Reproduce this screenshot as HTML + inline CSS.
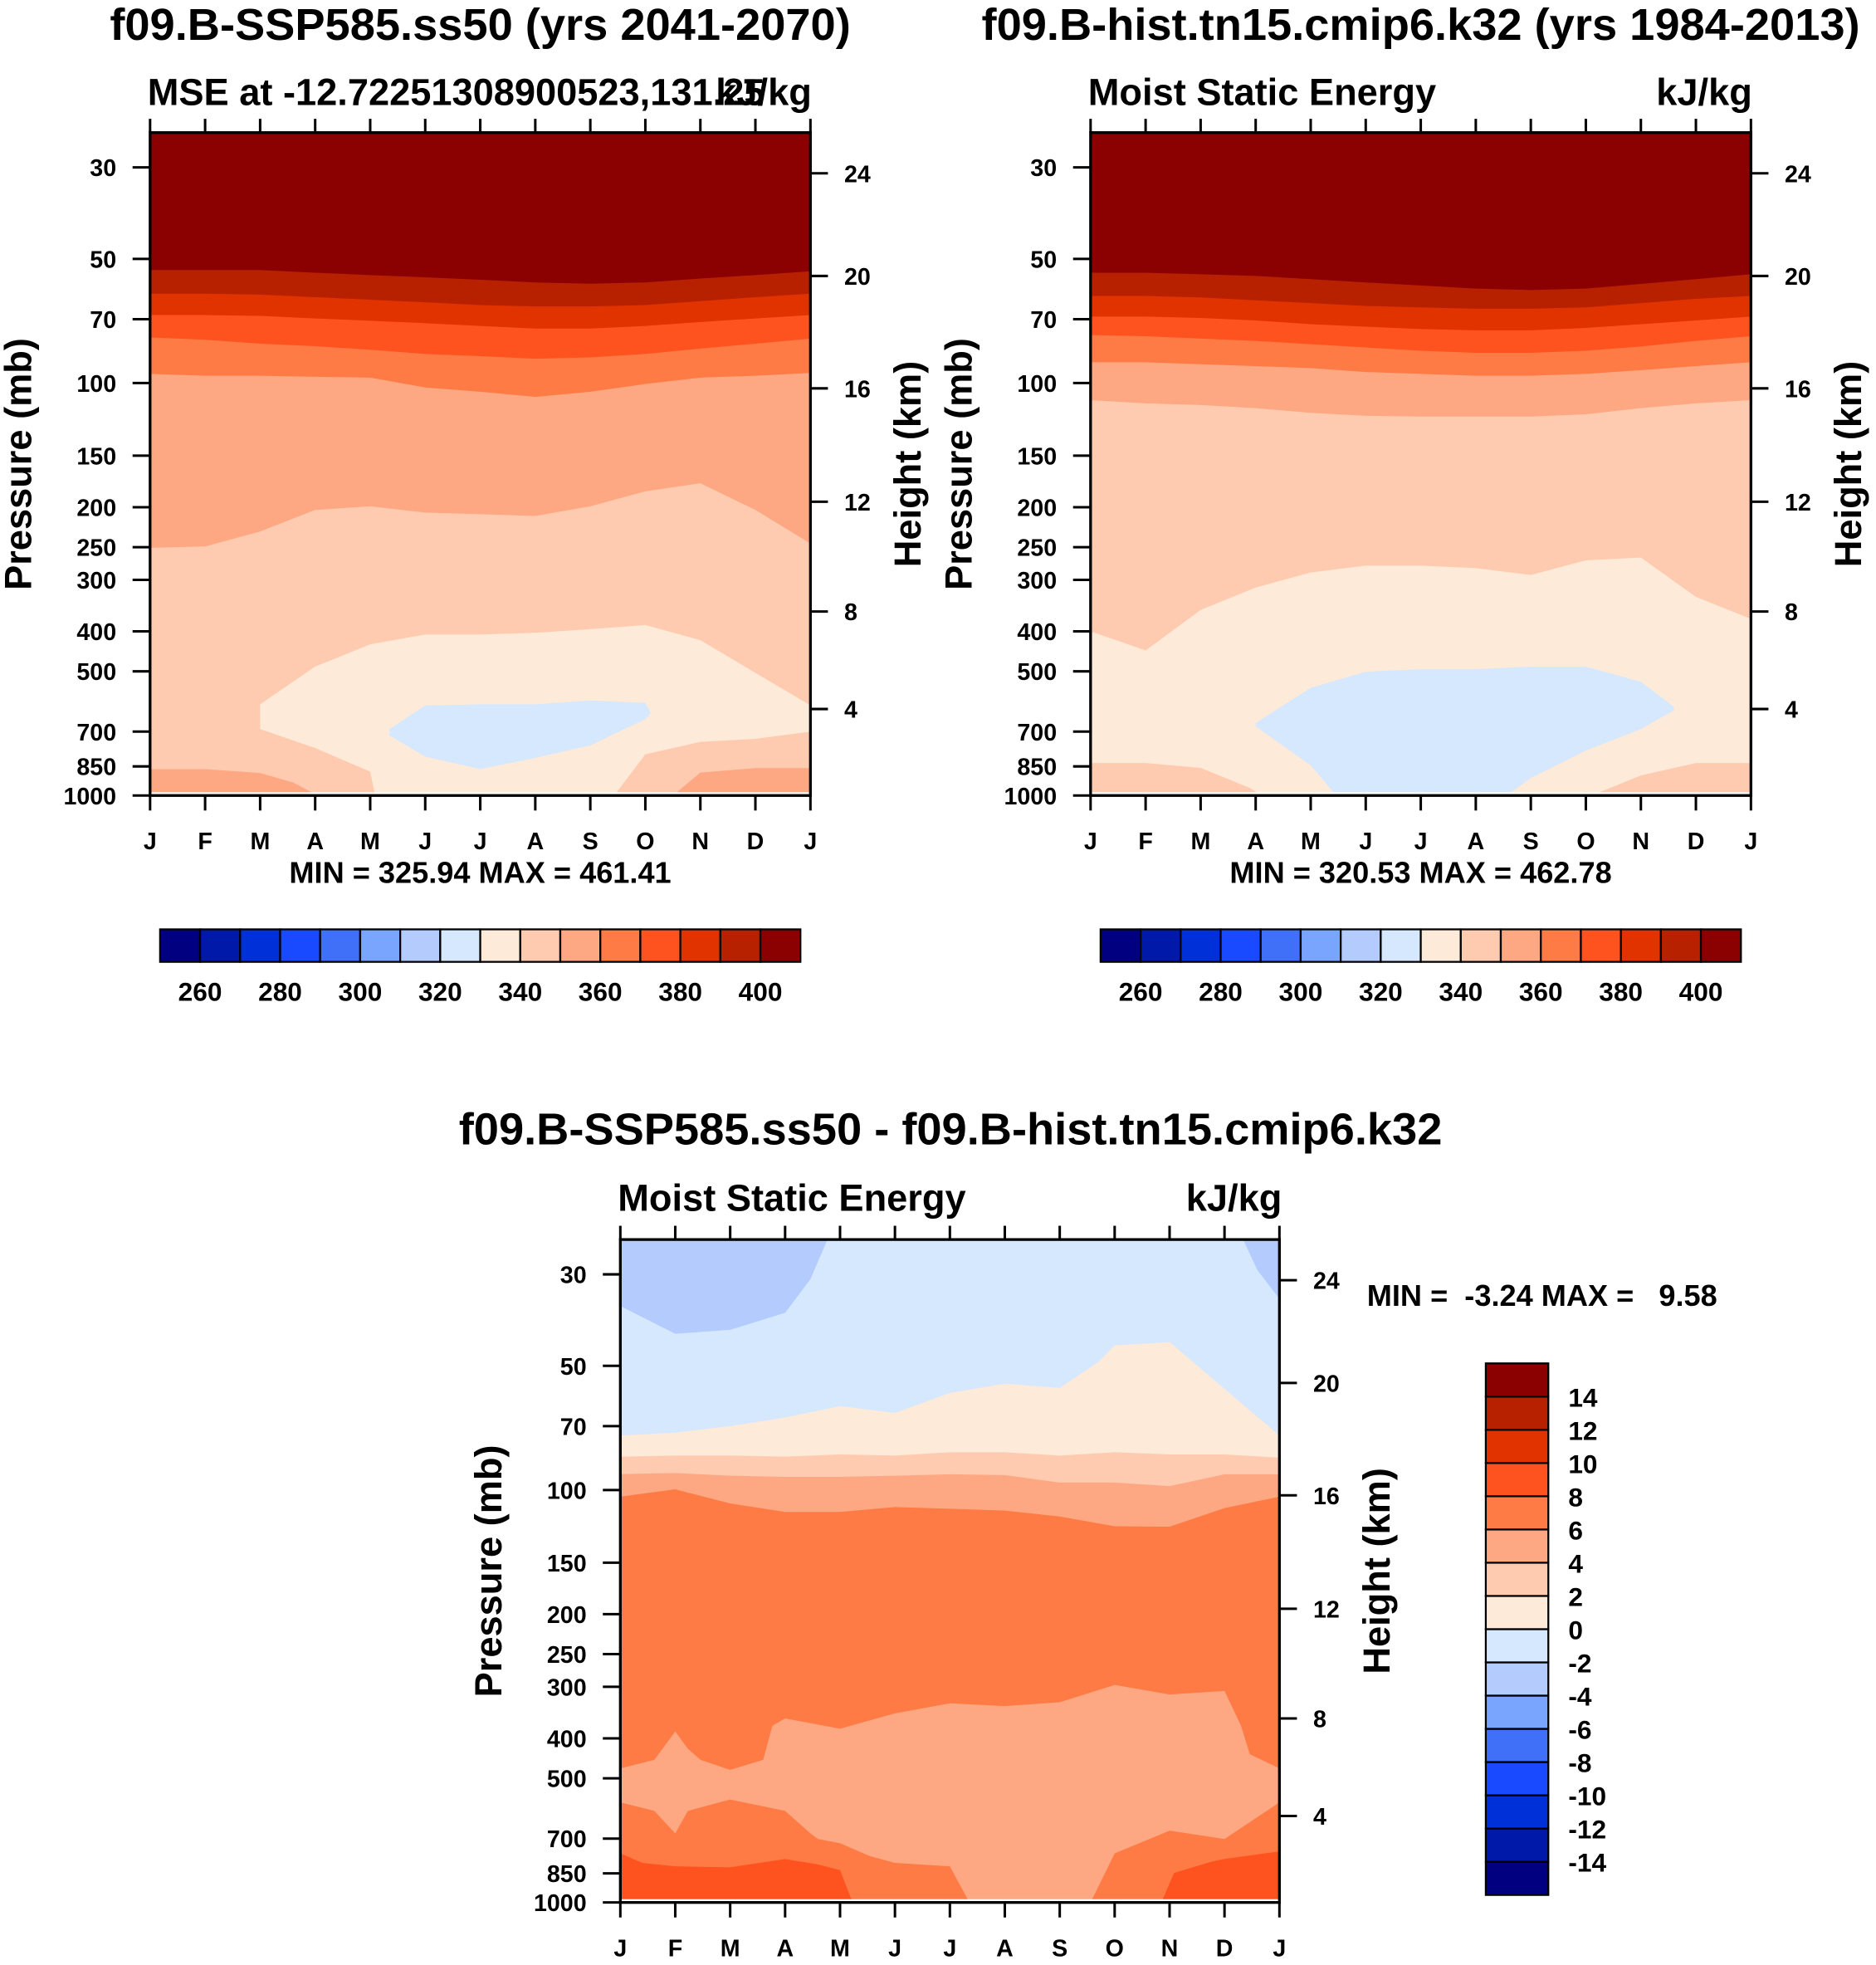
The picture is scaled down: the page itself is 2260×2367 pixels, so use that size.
<!DOCTYPE html>
<html><head><meta charset="utf-8">
<style>
html,body{margin:0;padding:0;background:#fff;}
svg{display:block;font-family:"Liberation Sans",Arial,sans-serif;font-weight:bold;}
</style></head>
<body>
<svg id="fig" width="2260" height="2367" viewBox="0 0 1500 1571" preserveAspectRatio="none" xmlns="http://www.w3.org/2000/svg">
<text x="384" y="32" font-size="36" text-anchor="middle">f09.B-SSP585.ss50 (yrs 2041-2070)</text>
<text x="118" y="84" font-size="30">MSE at -12.72251308900523,131.25</text>
<text x="649" y="84" font-size="30" text-anchor="end">kJ/kg</text>
<text x="384" y="706" font-size="24" text-anchor="middle">MIN = 325.94 MAX = 461.41</text>

<text x="1136" y="32" font-size="36" text-anchor="middle">f09.B-hist.tn15.cmip6.k32 (yrs 1984-2013)</text>
<text x="870" y="84" font-size="30">Moist Static Energy</text>
<text x="1401" y="84" font-size="30" text-anchor="end">kJ/kg</text>
<text x="1136" y="706" font-size="24" text-anchor="middle">MIN = 320.53 MAX = 462.78</text>

<text x="760" y="915" font-size="36" text-anchor="middle">f09.B-SSP585.ss50 - f09.B-hist.tn15.cmip6.k32</text>
<text x="494" y="968" font-size="30">Moist Static Energy</text>
<text x="1025" y="968" font-size="30" text-anchor="end">kJ/kg</text>
<text x="1093" y="1044" font-size="24" xml:space="preserve">MIN =  -3.24 MAX =   9.58</text>
</svg>
<script>
const NS="http://www.w3.org/2000/svg";
const svg=document.getElementById('fig');
const palette=["#000080","#0019a8","#0030d8","#1a4aff","#3f70f7","#7aa5ff","#b3cbfd","#d6e8fe","#feead8","#fecbb0","#fda882","#fe7b45","#fe531f","#e03300","#b72100","#8b0000"];
const monthLabels=["J","F","M","A","M","J","J","A","S","O","N","D","J"];
const pressureTicks=[30,50,70,100,150,200,250,300,400,500,700,850,1000];
const heightTicks=[4,8,12,16,20,24];
const heightTickPressures=[617,358,194,103,55,31];
const topBarLevels=[250,260,270,280,290,300,310,320,330,340,350,360,370,380,390,400,410];
const diffBarLevels=[-16,-14,-12,-10,-8,-6,-4,-2,0,2,4,6,8,10,12,14,16];
const M13=[0,1,2,3,4,5,6,7,8,9,10,11,12];

// Panel 1 contour boundaries (hPa) per month
const p1b350=[251,249,229,203,199,206,208,210,199,183,175,203,245];
const p1b360=[95,96,96,96.5,97,102.5,105,108,105,100.5,97,96,94.5];
const p1b370=[77.5,78.5,80.3,81.4,83,85,86,87.3,86.6,85,82.5,80.3,78];
const p1b380=[68.4,68.4,68.7,69.7,70.6,71.6,72.7,73.8,73.8,72.7,71.1,69.7,68.4];
const p1b390=[60.7,60.7,61,61.9,62.8,63.7,64.7,65.2,65.2,64.7,63.3,61.9,60.7];
const p1b400=[53.2,53.2,53.2,54,54.7,55.4,56.2,57,57.4,57,55.8,54.7,53.6];
const p1PeachUpM=[2,3,4,5,6,7,8,9,10,11,12];
const p1PeachUp=[601,487,430,407,407,403,395,386,420,504,605];
const p1PeachLoM=[2,3,4,4.1,8.4,9,10,11,12];
const p1PeachLo=[690,767,875,1000,1000,795,741,729,700];
const p1BlueUpM=[4.35,5,6,7,8,9,9.1];
const p1BlueUp=[690,605,601,601,588,596,631];
const p1BlueLoM=[4.35,5,6,7,8,9,9.1];
const p1BlueLo=[715,805,863,811,756,653,631];
const p1PatchLM=[0,1,2,2.6,3.05];
const p1PatchL=[863,863,882,930,1000];
const p1PatchRM=[9.5,10,11,12];
const p1PatchR=[1000,880,858,858];

// Panel 2
const p2b340=[400,445,355,313,288,277,277,281,292,269,265,330,373];
const p2b350=[110,112,113,115,118,120,120.5,120.5,120.5,119,115,112,110];
const p2b360=[89,89,90,91,92,94,95,96,96,95,93,91,89];
const p2b370=[76.5,77,78,79,80.5,82,83.5,84.5,84.5,83.5,81.5,79,77];
const p2b380=[69,69,69.5,70.5,72,73,74,74.5,74.5,73.5,72,70.5,69];
const p2b390=[61.5,61.5,62,63,64,65,65.5,66,66,65.5,64,62.5,61.5];
const p2b400=[54,54,54.5,55,56,57,58,59,59.5,59,57.5,56,54.5];
const p2BlueUpM=[3,4,5,6,7,8,9,10,10.6];
const p2BlueUp=[667,548,501,494,494,487,487,530,609];
const p2BlueLoM=[3,4,4.5,7.5,8,9,10,10.6];
const p2BlueLo=[680,845,1000,1000,907,778,690,622];
const p2PatchLM=[0,1,2,2.9,3.1];
const p2PatchL=[834,834,857,959,1000];
const p2PatchRM=[9.1,10,11,12];
const p2PatchR=[1000,894,834,834];

// Panel 3 (difference)
const p3b6=[103.8,99.6,107.8,113,113,110,111,112.2,115.9,122.4,122.7,110.6,103.8];
const p3b4=[91.5,91,92.3,92.9,92.9,92.3,91.6,92,95.9,95.9,97.8,91.6,91.6];
const p3b2=[83,82.5,82.5,83,82,82.5,81,81,82.5,81,82,82,83.5];
const p3b0M=[0,1,2,3,4,5,6,7,8,8.7,9,10,11,12];
const p3b0=[73.8,72.6,70,66.7,62.6,65,58.2,55.2,56.6,49,44.6,43.8,56.9,73.8];
const p3NegLM=[0,1,2,3,3.46,3.77];
const p3NegL=[35.8,41.8,40.9,37.2,30.8,24.7];
const p3NegRM=[11.34,11.6,12];
const p3NegR=[24.7,29.3,34.4];
const p3MidUpM=[0,0.62,1,1.23,1.46,2,2.6,2.77,3,4,5,6,7,8,9,10,11,11.3,11.46,12];
const p3MidUp=[473,451,385,424,451,477,451,373,358,379,348,329,334,327,297,313,307,373,437,473];
const p3MidLoM=[0,0.62,1,1.23,2,3,3.46,3.6,4,4.54,5,6,6.38,8.54,9,10,11,12];
const p3MidLo=[572,600,680,600,563,600,680,702,718,772,802,817,1000,1000,760,670,702,572];
const p3HotLM=[0,0.4,1,2,3,3.6,4,4.2,4.3];
const p3HotL=[760,802,817,822,785,809,835,978,1000];
const p3HotRM=[9.85,10.08,10.77,11,12];
const p3HotR=[1000,848,796,784,752];

const P_TOP=24.7, P_BOT=1000;
function mk(tag,attrs,parent){const e=document.createElementNS(NS,tag);for(const k in attrs)e.setAttribute(k,attrs[k]);(parent||svg).appendChild(e);return e;}

function drawPanel(cfg){
  const {x0,x1,y0,y1,id}=cfg;
  const xs=m=>x0+m/12*(x1-x0);
  const ys=p=>y1-Math.log10(P_BOT/p)/Math.log10(P_BOT/P_TOP)*(y1-y0);
  const clip=mk('clipPath',{id:'clip'+id});
  mk('rect',{x:x0,y:y0,width:x1-x0,height:y1-y0},clip);
  const g=mk('g',{'clip-path':'url(#clip'+id+')'});
  
  
  const base=mk('rect',{x:x0,y:y0,width:x1-x0,height:y1-y0,fill:palette[cfg.base]},g);
  
  
  cfg.regions.forEach((r,i)=>{
    let pts=[];
    if(r.up===null){pts.push([xs(r.mu[0]),y0-2]);pts.push([xs(r.mu[r.mu.length-1]),y0-2]);}
    else r.mu.forEach((m,k)=>pts.push([xs(m),ys(r.up[k])]));
    if(r.lo===null){pts.push([xs(r.ml[r.ml.length-1]),y1+2]);pts.push([xs(r.ml[0]),y1+2]);}
    else for(let k=r.ml.length-1;k>=0;k--){let p=r.lo[k];pts.push([xs(r.ml[k]),p>=1000?y1+2:ys(p)]);}
    const poly=mk('polygon',{points:pts.map(q=>q[0].toFixed(1)+','+q[1].toFixed(1)).join(' '),fill:palette[r.c]},g);
    
    
  });
  mk('rect',{x:x0,y:ys(982),width:x1-x0,height:y1-ys(982),fill:'#fff'},g);
  const frame=mk('rect',{x:x0,y:y0,width:x1-x0,height:y1-y0,fill:'none',stroke:'#000','stroke-width':2.2});
  
  
  monthLabels.forEach((lab,i)=>{
    const x=xs(i);
    mk('line',{x1:x,x2:x,y1:y0,y2:y0-11,stroke:'#000','stroke-width':2});
    mk('line',{x1:x,x2:x,y1:y1,y2:y1+12,stroke:'#000','stroke-width':2});
    const t=mk('text',{x:x,y:y1+43,'font-size':19,'text-anchor':'middle'});
    t.textContent=lab;
    
    
  });
  pressureTicks.forEach(p=>{
    const y=ys(p);
    mk('line',{x1:x0,x2:x0-14,y1:y,y2:y,stroke:'#000','stroke-width':2});
    const t=mk('text',{x:x0-27,y:y+7,'font-size':19,'text-anchor':'end'});
    t.textContent=p;
    
    
  });
  heightTicks.forEach((h,i)=>{
    const y=ys(heightTickPressures[i]);
    mk('line',{x1:x1,x2:x1+14,y1:y,y2:y,stroke:'#000','stroke-width':2});
    const t=mk('text',{x:x1+27,y:y+7,'font-size':19});
    t.textContent=h;
    
    
  });
  const yc=(y0+y1)/2;
  const lt=mk('text',{x:0,y:0,'font-size':30,'text-anchor':'middle',transform:`translate(${x0-95},${yc}) rotate(-90)`});
  lt.textContent='Pressure (mb)';
  
  
  const rt=mk('text',{x:0,y:0,'font-size':30,'text-anchor':'middle',transform:`translate(${x1+88},${yc}) rotate(-90)`});
  rt.textContent='Height (km)';
  
  
}
function R(name,c,mu,up,ml,lo){return {name,c,mu,up,ml,lo};}

drawPanel({id:'panel1',x0:120,x1:648,y0:106,y1:636,base:9,regions:[
  R('350-360',10,M13,null,M13,p1b350),R('360-370',11,M13,null,M13,p1b360),
  R('370-380',12,M13,null,M13,p1b370),R('380-390',13,M13,null,M13,p1b380),
  R('390-400',14,M13,null,M13,p1b390),R('400-plus',15,M13,null,M13,p1b400),
  R('330-340',8,p1PeachUpM,p1PeachUp,p1PeachLoM,p1PeachLo),
  R('320-330',7,p1BlueUpM,p1BlueUp,p1BlueLoM,p1BlueLo),
  R('350-360-low-left',10,p1PatchLM,p1PatchL,[0,3.05],null),
  R('350-360-low-right',10,p1PatchRM,p1PatchR,[9.5,12],null)]});
drawPanel({id:'panel2',x0:872,x1:1400,y0:106,y1:636,base:8,regions:[
  R('340-350',9,M13,null,M13,p2b340),R('350-360',10,M13,null,M13,p2b350),
  R('360-370',11,M13,null,M13,p2b360),R('370-380',12,M13,null,M13,p2b370),
  R('380-390',13,M13,null,M13,p2b380),R('390-400',14,M13,null,M13,p2b390),
  R('400-plus',15,M13,null,M13,p2b400),
  R('320-330',7,p2BlueUpM,p2BlueUp,p2BlueLoM,p2BlueLo),
  R('340-350-low-left',9,p2PatchLM,p2PatchL,[0,3.1],null),
  R('340-350-low-right',9,p2PatchRM,p2PatchR,[9.1,12],null)]});
drawPanel({id:'panel3',x0:496,x1:1023,y0:991,y1:1521,base:11,regions:[
  R('4-6',10,M13,null,M13,p3b6),R('2-4',9,M13,null,M13,p3b4),
  R('0-2',8,M13,null,M13,p3b2),R('neg2-0',7,p3b0M,null,p3b0M,p3b0),
  R('neg4-neg2-left',6,[0,3.77],null,p3NegLM,p3NegL),
  R('neg4-neg2-right',6,[11.34,12],null,p3NegRM,p3NegR),
  R('4-6-mid',10,p3MidUpM,p3MidUp,p3MidLoM,p3MidLo),
  R('8-10-left',12,p3HotLM,p3HotL,[0,4.3],null),
  R('8-10-right',12,p3HotRM,p3HotR,[9.85,12],null)]});

function hBar(id,x0,x1,y0,y1){
  const n=palette.length,w=(x1-x0)/n;
  palette.forEach((c,i)=>{
    const r=mk('rect',{x:x0+i*w,y:y0,width:w,height:y1-y0,fill:c,stroke:'#000','stroke-width':1.5});
    
    
  });
  topBarLevels.forEach((v,k)=>{
    if(k%2===1){
      const t=mk('text',{x:x0+k*w,y:y1+31,'font-size':21,'text-anchor':'middle'});
      t.textContent=v;
      
      
    }
  });
}
hBar('colorbar1',128,640,743,769);
hBar('colorbar2',880,1392,743,769);
(function(){
  const x0=1188,x1=1238,y0=1090,y1=1515,n=palette.length,h=(y1-y0)/n;
  palette.forEach((c,i)=>{
    const r=mk('rect',{x:x0,y:y0+(n-1-i)*h,width:x1-x0,height:h,fill:c,stroke:'#000','stroke-width':1.5});
    
    
  });
  diffBarLevels.forEach((v,k)=>{
    if(k===0||k===n)return;
    const t=mk('text',{x:x1+16,y:y1-k*h+8,'font-size':21});
    t.textContent=v;
    
    
  });
})();
</script>
</body></html>
